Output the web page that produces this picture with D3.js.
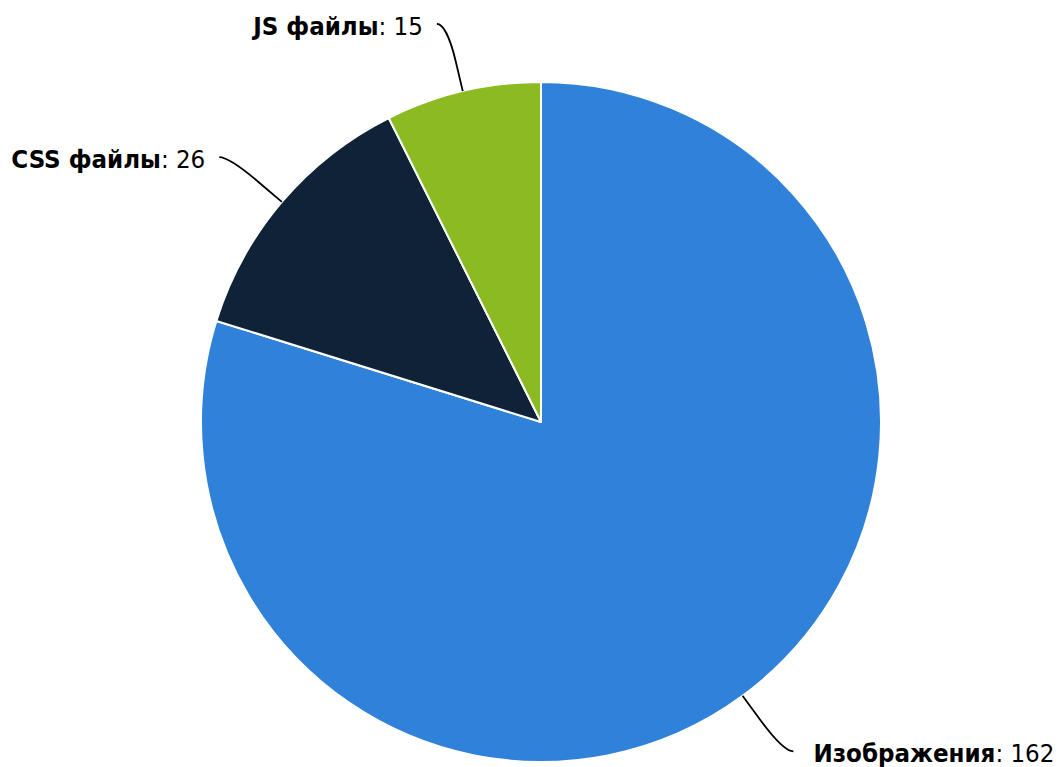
<!DOCTYPE html>
<html>
<head>
<meta charset="utf-8">
<script src="https://cdn.jsdelivr.net/npm/d3@7/dist/d3.min.js"></script>
<style>
  html, body { margin: 0; padding: 0; background: #fff; }
  svg { display: block; }
  .lbl { font-family: "DejaVu Sans Condensed", "DejaVu Sans", sans-serif; font-size: 25.6px; fill: #000; }
</style>
</head>
<body>
<div id="chart"></div>
<script>
// data
const categories = ["Изображения", "CSS файлы", "JS файлы"];
const values = [162, 26, 15];
const colors = ["#3081d9", "#0f2238", "#8cba23"];

const width = 1059, height = 767;
const cx = 541, cy = 422, radius = 340;
const labelRadius = 409;

const svg = d3.select("#chart").append("svg")
  .attr("width", width)
  .attr("height", height);

const g = svg.append("g")
  .attr("transform", "translate(" + cx + "," + cy + ")");

const pie = d3.pie().sort(null).value(d => d.value);
const arc = d3.arc().innerRadius(0).outerRadius(radius);

const data = pie(categories.map((c, i) => ({ name: c, value: values[i], color: colors[i] })));

g.selectAll("path.slice")
  .data(data)
  .enter().append("path")
  .attr("class", "slice")
  .attr("d", arc)
  .style("fill", d => d.data.color)
  .style("stroke", "#fff")
  .style("stroke-width", 2)
  .style("stroke-linejoin", "round");

// labels + connectors (soft curve, then straight into the slice)
data.forEach(d => {
  const a = (d.startAngle + d.endAngle) / 2;
  const sin = Math.sin(a), cos = Math.cos(a);
  const left = sin < 0;

  const touch = { x: radius * sin, y: -radius * cos };
  const brk = { x: (radius + 30) * sin, y: -(radius + 30) * cos };

  const ly = -labelRadius * cos;
  const lx = (left ? -1 : 1) * (Math.sqrt(labelRadius * labelRadius - ly * ly) + 10);

  const path = d3.path();
  path.moveTo(lx, ly);
  path.bezierCurveTo(lx + (left ? 5 : -5), ly, 2 * brk.x - touch.x, 2 * brk.y - touch.y, brk.x, brk.y);
  path.lineTo(touch.x, touch.y);

  g.append("path")
    .attr("d", path.toString())
    .style("fill", "none")
    .style("stroke", "#000")
    .style("stroke-width", 1.8);

  const t = g.append("text")
    .attr("class", "lbl")
    .attr("x", left ? lx - 14 : lx + 20)
    .attr("y", ly + 11)
    .attr("text-anchor", left ? "end" : "start");
  t.append("tspan").style("font-weight", "bold").text(d.data.name);
  t.append("tspan").text(": " + d.data.value);
});
</script>
</body>
</html>
